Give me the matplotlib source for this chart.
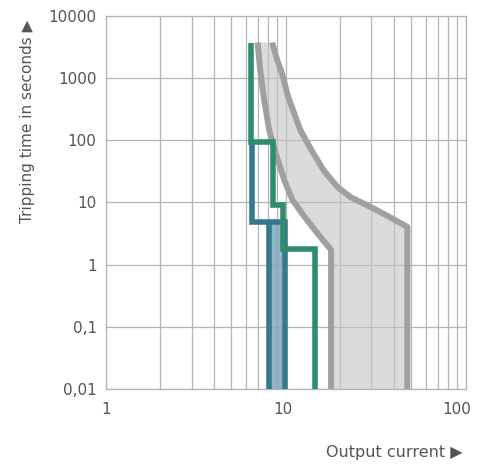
import matplotlib
matplotlib.use("Agg")
import matplotlib.pyplot as plt
import matplotlib.transforms as mtransforms
from matplotlib.ticker import FixedLocator, FixedFormatter, LogLocator, NullFormatter

# Tripping characteristics: current (multiple of rated current) vs. time in s
green_current = [6.4, 6.4, 8.53, 8.53, 9.64, 9.64, 14.5, 14.5]
green_time = [3600, 95, 95, 9, 9, 1.8, 1.8, 0.01]

blue_current = [6.5, 6.5, 9.9, 9.9]
blue_time = [95, 4.8, 4.8, 0.01]
blue_inner_current = [8.08, 8.08]
blue_inner_time = [4.8, 0.01]

band_low_current = [6.99, 7.22, 7.60, 8.10, 8.87, 9.82, 10.9, 12.5, 14.8, 17.9, 17.9]
band_low_time = [3700, 1340, 442, 146, 58, 22.9, 11.0, 6.3, 3.35, 1.72, 0.01]
band_high_current = [8.42, 8.98, 9.57, 10.34, 12.06, 13.9, 16.2, 19.4, 22.9, 29.6,
                     38.2, 47.5, 47.5]
band_high_time = [3700, 1940, 1157, 494, 146, 69.6, 33.2, 17.7, 12.2, 8.45,
                  5.73, 4.03, 0.01]

y_ticks = [0.01, 0.1, 1, 10, 100, 1000, 10000]
y_tick_labels = ["0,01", "0,1", "1", "10", "100", "1000", "10000"]
x_ticks = [1, 10, 100]
x_tick_labels = ["1", "10", "100"]

GRID = "#b4b4b4"
TEXT = "#555555"
GREEN = "#308c6e"
BLUE = "#35798f"
BLUE_FILL = "#7fa9bb"
GRAY = "#a0a0a0"
GRAY_FILL = "#c4c4c4"

fig = plt.figure(figsize=(4.88, 4.68), dpi=100)
ax = fig.add_axes([0.2166, 0.1688, 0.7373, 0.7977])
ax.set_xscale("log")
ax.set_yscale("log")
ax.set_xlim(1, 100)
ax.set_ylim(0.01, 10000)

# grid: all decades and sub-decades on x, decades only on y
ax.xaxis.set_major_locator(FixedLocator(x_ticks))
ax.xaxis.set_major_formatter(FixedFormatter(x_tick_labels))
ax.xaxis.set_minor_locator(LogLocator(base=10, subs=range(2, 10)))
ax.xaxis.set_minor_formatter(NullFormatter())
ax.yaxis.set_major_locator(FixedLocator(y_ticks))
ax.yaxis.set_major_formatter(FixedFormatter(y_tick_labels))
ax.yaxis.set_minor_locator(FixedLocator([]))
ax.set_axisbelow(True)
ax.grid(True, which="major", axis="both", color=GRID, lw=0.9)
ax.grid(True, which="minor", axis="x", color=GRID, lw=0.9)
for s in ax.spines.values():
    s.set_color(GRID)
    s.set_linewidth(0.9)
ax.tick_params(which="both", length=0)
ax.tick_params(axis="y", pad=6.5, labelsize=11, labelcolor=TEXT)
ax.tick_params(axis="x", pad=9, labelsize=11, labelcolor=TEXT)

# nudge the x tick labels slightly left
shifts = [0, -3, -9]
for lab, dx in zip(ax.get_xticklabels(), shifts):
    lab.set_transform(lab.get_transform() +
                      mtransforms.ScaledTranslation(dx / 100, 0, fig.dpi_scale_trans))

# shaded tolerance band
band_x = band_low_current + band_high_current[::-1]
band_y = band_low_time + band_high_time[::-1]
ax.fill(band_x, band_y, color=GRAY_FILL, alpha=0.6, lw=0, zorder=1)
ax.plot(band_low_current, band_low_time, color=GRAY, lw=4.3,
        solid_capstyle="butt", solid_joinstyle="round", zorder=2)
ax.plot(band_high_current, band_high_time, color=GRAY, lw=4.3,
        solid_capstyle="butt", solid_joinstyle="round", zorder=2)

# blue characteristic
ax.fill_betweenx([blue_inner_time[1], blue_inner_time[0]],
                 blue_inner_current[0], blue_current[-1],
                 color=BLUE_FILL, alpha=0.85, lw=0, zorder=3)
ax.plot(blue_current, blue_time, color=BLUE, lw=4.0,
        solid_capstyle="butt", solid_joinstyle="miter", zorder=4)
ax.plot(blue_inner_current, blue_inner_time, color=BLUE, lw=4.0,
        solid_capstyle="butt", zorder=4)

# green characteristic
ax.plot(green_current, green_time, color=GREEN, lw=4.0,
        solid_capstyle="butt", solid_joinstyle="miter", zorder=5)

fig.text(28 / 488, 1 - 20 / 468, "Tripping time in seconds \u25b6", rotation=90,
         ha="center", va="top", fontsize=11, color=TEXT)
fig.text(463 / 488, 1 - 453 / 468, "Output current \u25b6",
         ha="right", va="center", fontsize=11.5, color=TEXT)

fig.savefig("out.png", dpi=100)
